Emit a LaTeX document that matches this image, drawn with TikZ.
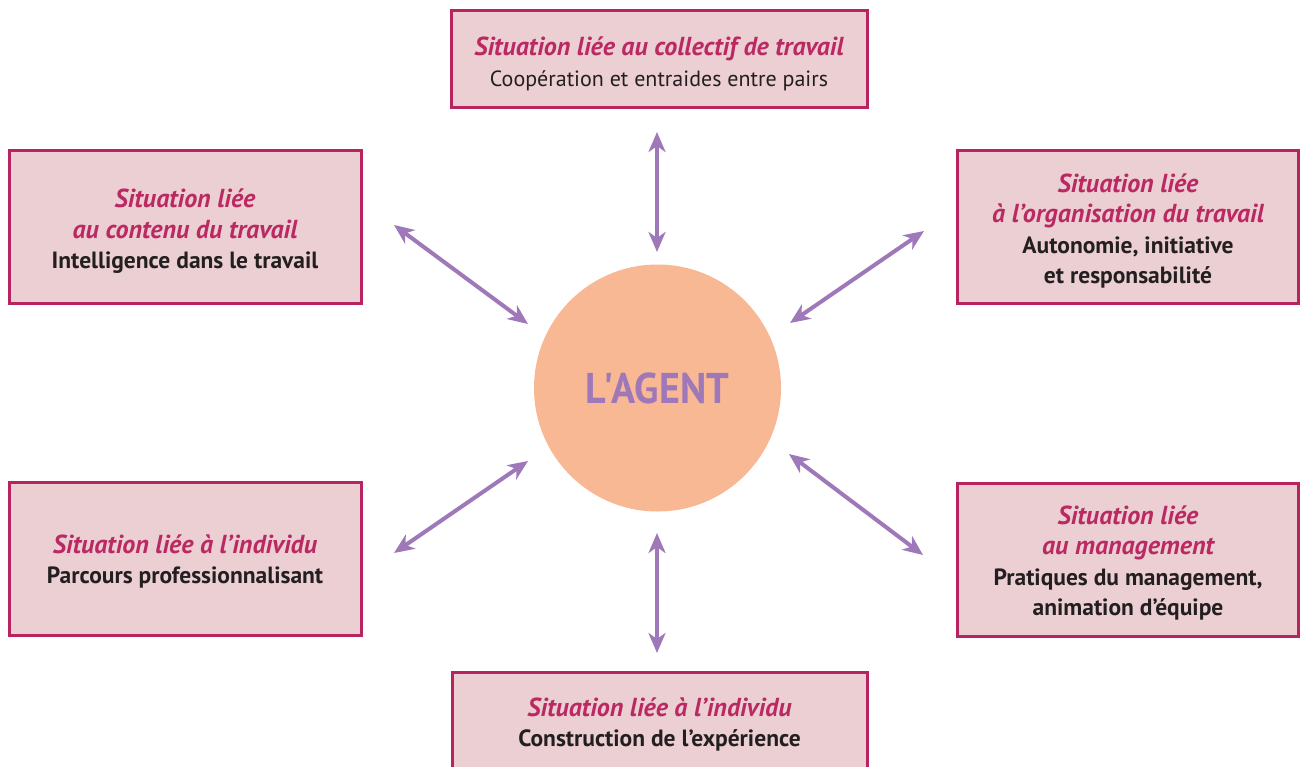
\documentclass[tikz,border=0pt]{standalone}
\usepackage{fontspec}
\usepackage{graphicx}
\setmainfont{PT Sans}
\usetikzlibrary{arrows.meta}
\definecolor{boxborder}{HTML}{B8245F}
\definecolor{boxfill}{HTML}{EBCFD3}
\definecolor{titlecol}{HTML}{BA2962}
\definecolor{subcol}{HTML}{231F20}
\definecolor{agentfill}{HTML}{F8B893}
\definecolor{arrowcol}{HTML}{9E78B9}
\tikzset{
  sitbox/.style={draw=boxborder, fill=boxfill, line width=3pt, inner sep=0pt},
  sittext/.style={align=center, inner sep=0pt, font=\fontsize{23}{30.5}\selectfont},
  link/.style={draw=arrowcol, line width=4pt,
    {Stealth[length=20pt,width=17pt,inset=6pt]}-{Stealth[length=20pt,width=17pt,inset=6pt]}},
}
\newcommand{\ttlfont}{\fontsize{26}{30.5}\selectfont\bfseries\itshape\color{titlecol}}
\newcommand{\subfont}{\fontsize{23.5}{30.5}\selectfont\bfseries\color{subcol}}
\newcommand{\subfontreg}{\fontsize{22}{30.5}\selectfont\color{subcol}}
\begin{document}
\begin{tikzpicture}[x=1pt,y=-1pt]
\useasboundingbox (0,0) rectangle (1301,766);
\clip (0,0) rectangle (1301,766);

% boxes
\node[sitbox, minimum width=416pt, minimum height=97pt] (top) at (659,58.5) {};
\node[sittext] (top-t) at (659,64)
  {{\ttlfont Situation liée au collectif de travail}\\{\subfontreg Coopération et entraides entre pairs}};
\node[sitbox, minimum width=352pt, minimum height=153pt] (ul) at (185,226.5) {};
\node[sittext] (ul-t) at (185,231.5)
  {{\ttlfont Situation liée}\\{\ttlfont au contenu du travail}\\{\subfont Intelligence dans le travail}};
\node[sitbox, minimum width=341pt, minimum height=153pt] (ur) at (1128,226.5) {};
\node[sittext] (ur-t) at (1128,231)
  {{\ttlfont Situation liée}\\{\ttlfont à l'organisation du travail}\\{\subfont Autonomie, initiative}\\{\subfont et responsabilité}};
\node[sitbox, minimum width=352pt, minimum height=153pt] (ll) at (185,558.5) {};
\node[sittext] (ll-t) at (185,561.5)
  {{\ttlfont Situation liée à l'individu}\\{\subfont Parcours professionnalisant}};
\node[sitbox, minimum width=341pt, minimum height=153pt] (lr) at (1128,559.5) {};
\node[sittext] (lr-t) at (1128,563)
  {{\ttlfont Situation liée}\\{\ttlfont au management}\\{\subfont Pratiques du management,}\\{\subfont animation d'équipe}};
\node[sitbox, minimum width=415pt, minimum height=118pt] (bot) at (659.5,731) {};
\node[sittext] (bot-t) at (659.5,724.5)
  {{\ttlfont Situation liée à l'individu}\\{\subfont Construction de l'expérience}};

% agent
\node[circle, fill=agentfill, minimum size=247pt, inner sep=0pt] (agent) at (657.5,388)
  {\fontsize{43}{43}\selectfont\bfseries\color{arrowcol}\scalebox{0.93}[1]{L\kern-3pt\textquotesingle\kern-2pt AGENT}};

% arrow end points
\coordinate (t1) at (657,132); \coordinate (t2) at (657,252);
\coordinate (b1) at (657,533); \coordinate (b2) at (657,653);
\coordinate (ula) at (394,225); \coordinate (ulb) at (528,324);
\coordinate (ura) at (924,231); \coordinate (urb) at (790,323);
\coordinate (lla) at (528,461); \coordinate (llb) at (394,553);
\coordinate (lra) at (789,454); \coordinate (lrb) at (923,555);

\draw[link] (t1) -- (t2);
\draw[link] (b1) -- (b2);
\draw[link] (ula) -- (ulb);
\draw[link] (ura) -- (urb);
\draw[link] (lla) -- (llb);
\draw[link] (lra) -- (lrb);
\end{tikzpicture}
\end{document}
